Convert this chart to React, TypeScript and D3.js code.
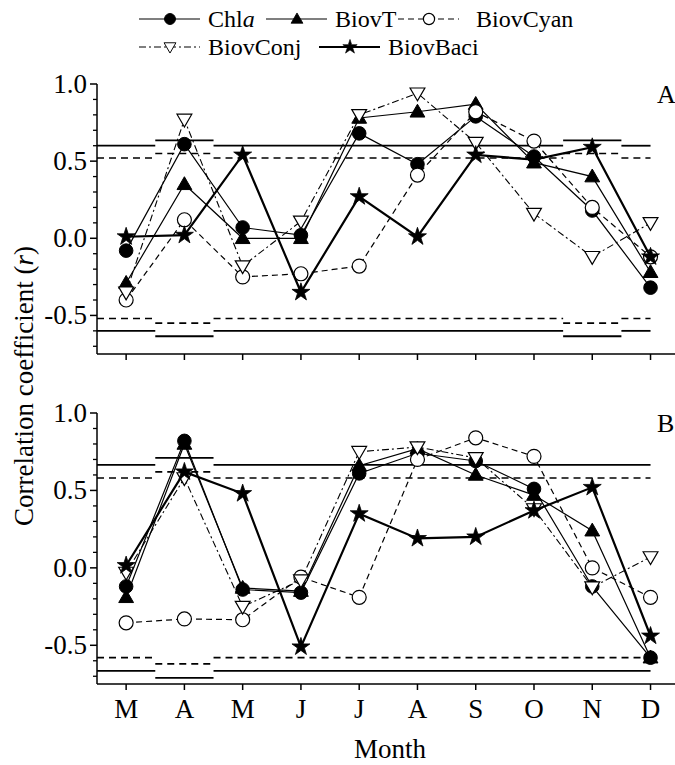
import React from 'react';
import * as d3 from 'd3';

const months = ['M', 'A', 'M', 'J', 'J', 'A', 'S', 'O', 'N', 'D'];
const yTickValues = [-0.5, 0, 0.5, 1.0];
const yTickLabels = ['-0.5', '0.0', '0.5', '1.0'];

// Panel A
const chlaA = [-0.08, 0.61, 0.07, 0.02, 0.68, 0.48, 0.79, 0.53, 0.18, -0.32];
const biovTA = [-0.29, 0.35, 0.0, 0.0, 0.78, 0.82, 0.87, 0.49, 0.4, -0.22];
const biovCyanA = [-0.4, 0.12, -0.25, -0.23, -0.18, 0.41, 0.82, 0.63, 0.2, -0.12];
const biovConjA = [-0.35, 0.77, -0.18, 0.11, 0.8, 0.94, 0.62, 0.16, -0.12, 0.1];
const biovBaciA = [0.01, 0.02, 0.54, -0.35, 0.27, 0.01, 0.54, 0.51, 0.59, -0.12];
const sig01A = [0.6, 0.635, 0.6, 0.6, 0.6, 0.6, 0.6, 0.6, 0.635, 0.6];
const sig05A = [0.52, 0.55, 0.52, 0.52, 0.52, 0.52, 0.52, 0.52, 0.55, 0.52];

// Panel B
const chlaB = [-0.12, 0.82, -0.14, -0.16, 0.61, 0.74, 0.69, 0.51, -0.12, -0.58];
const biovTB = [-0.19, 0.8, -0.13, -0.15, 0.66, 0.77, 0.6, 0.47, 0.24, -0.58];
const biovCyanB = [-0.355, -0.33, -0.335, -0.06, -0.19, 0.7, 0.84, 0.72, 0.0, -0.19];
const biovConjB = [-0.03, 0.58, -0.25, -0.08, 0.75, 0.78, 0.71, 0.38, -0.125, 0.07];
const biovBaciB = [0.015, 0.62, 0.48, -0.51, 0.35, 0.19, 0.2, 0.37, 0.52, -0.44];
const sig01B = [0.665, 0.71, 0.665, 0.665, 0.665, 0.665, 0.665, 0.665, 0.665, 0.665];
const sig05B = [0.58, 0.62, 0.58, 0.58, 0.58, 0.58, 0.58, 0.58, 0.58, 0.58];

const seriesNames = ['Chla', 'BiovT', 'BiovCyan', 'BiovConj', 'BiovBaci'];
const seriesStyle: Record<string, { dash: string | null; width: number; symbol: string }> = {
  Chla: { dash: null, width: 1.2, symbol: 'circleFilled' },
  BiovT: { dash: null, width: 1.2, symbol: 'triUp' },
  BiovCyan: { dash: '6,4', width: 1.2, symbol: 'circleOpen' },
  BiovConj: { dash: '7,3,2,3', width: 1.1, symbol: 'triDownOpen' },
  BiovBaci: { dash: null, width: 2.2, symbol: 'star' },
};

const FONT = 'Liberation Serif, Times New Roman, Times, DejaVu Serif, serif';
const W = 675;
const H = 765;

const x = d3.scaleLinear().domain([-0.5, 9.42]).range([97, 675]);

const triPath = d3.symbol(d3.symbolTriangle, 95)() as string;
const starPath = d3.symbol(d3.symbolStar, 100)() as string;

function Marker({ kind, cx, cy, s = 1 }: { kind: string; cx: number; cy: number; s?: number }) {
  const t = `translate(${cx},${cy}) scale(${s})`;
  if (kind === 'circleFilled') return <circle cx={cx} cy={cy} r={6.8 * s} fill="#000" stroke="#000" strokeWidth={1} />;
  if (kind === 'circleOpen') return <circle cx={cx} cy={cy} r={7 * s} fill="#fff" stroke="#000" strokeWidth={1.2} />;
  if (kind === 'triUp') return <path d={triPath} transform={t + ' translate(0,1)'} fill="#000" stroke="#000" strokeWidth={1} />;
  if (kind === 'triDownOpen') return <path d={triPath} transform={t + ' rotate(180) translate(0,1)'} fill="#fff" stroke="#000" strokeWidth={1.2} />;
  return <path d={starPath} transform={t} fill="#000" stroke="#000" strokeWidth={0.8} />;
}

function thresholdSegments(vals: number[]) {
  const segs: { x0: number; x1: number; v: number }[] = [];
  let start = 0;
  for (let i = 1; i <= vals.length; i++) {
    if (i === vals.length || vals[i] !== vals[start]) {
      const x0 = start - 0.5;
      const x1 = Math.min(i - 0.5, vals.length - 1);
      segs.push({ x0, x1, v: vals[start] });
      start = i;
    }
  }
  return segs;
}

function Panel({ top, bottom, data, sig01, sig05, label, showLabels }: any) {
  const y = d3.scaleLinear().domain([-0.75, 1.0]).range([bottom, top]);
  const line = d3.line<number>().x((_, i) => x(i)).y((d) => y(d));
  const minor = d3.range(-7, 10).map((k) => k / 10).filter((v) => ![-0.5, 0, 0.5].includes(Math.round(v * 10) / 10));
  const seg01 = thresholdSegments(sig01);
  const seg05 = thresholdSegments(sig05);
  return (
    <g>
      {seg01.map((s, i) => (
        <g key={'s01' + i}>
          <line x1={x(s.x0)} x2={x(s.x1)} y1={y(s.v)} y2={y(s.v)} stroke="#000" strokeWidth={1.8} />
          <line x1={x(s.x0)} x2={x(s.x1)} y1={y(-s.v)} y2={y(-s.v)} stroke="#000" strokeWidth={1.8} />
        </g>
      ))}
      {seg05.map((s, i) => (
        <g key={'s05' + i}>
          <line x1={x(s.x0)} x2={x(s.x1)} y1={y(s.v)} y2={y(s.v)} stroke="#000" strokeWidth={1.6} strokeDasharray="7,5" />
          <line x1={x(s.x0)} x2={x(s.x1)} y1={y(-s.v)} y2={y(-s.v)} stroke="#000" strokeWidth={1.6} strokeDasharray="7,5" />
        </g>
      ))}
      <line x1={97} x2={97} y1={y(1.0)} y2={bottom} stroke="#000" strokeWidth={1.5} />
      <line x1={97} x2={675} y1={bottom} y2={bottom} stroke="#000" strokeWidth={1.5} />
      {yTickValues.map((v, i) => (
        <g key={'yt' + i}>
          <line x1={90} x2={97} y1={y(v)} y2={y(v)} stroke="#000" strokeWidth={1.5} />
          <text x={87} y={y(v) + 9} textAnchor="end" style={{ fontFamily: FONT }} fontSize={27}>{yTickLabels[i]}</text>
        </g>
      ))}
      {minor.map((v, i) => (
        <line key={'ym' + i} x1={93} x2={97} y1={y(v)} y2={y(v)} stroke="#000" strokeWidth={1.3} />
      ))}
      {months.map((m, i) => (
        <g key={'xt' + i}>
          <line x1={x(i)} x2={x(i)} y1={bottom} y2={bottom + 6} stroke="#000" strokeWidth={1.5} />
          {showLabels && (
            <text x={x(i)} y={bottom + 34} textAnchor="middle" style={{ fontFamily: FONT }} fontSize={27}>{m}</text>
          )}
        </g>
      ))}
      {seriesNames.map((name, si) => {
        const st = seriesStyle[name];
        const vals: number[] = data[si];
        return (
          <g key={name}>
            <path d={line(vals) as string} fill="none" stroke="#000" strokeWidth={st.width} strokeDasharray={st.dash ?? undefined} />
            {vals.map((v, i) => (
              <Marker key={i} kind={st.symbol} cx={x(i)} cy={y(v)} />
            ))}
          </g>
        );
      })}
      <text x={657} y={top + 19} style={{ fontFamily: FONT }} fontSize={26}>{label}</text>
    </g>
  );
}

function LegendItem({ name, x0, yy, tx = 69 }: { name: string; x0: number; yy: number; tx?: number }) {
  const st = seriesStyle[name];
  const text = name === 'Chla' ? (
    <>Chl<tspan fontStyle="italic">a</tspan></>
  ) : name;
  return (
    <g>
      <line x1={x0} x2={x0 + 61} y1={yy} y2={yy} stroke="#000" strokeWidth={st.width} strokeDasharray={st.dash ?? undefined} />
      <Marker kind={st.symbol} cx={x0 + 31} cy={yy} s={0.8} />
      <text x={x0 + tx} y={yy + 8} style={{ fontFamily: FONT }} fontSize={24}>{text}</text>
    </g>
  );
}

export default function App() {
  return (
    <svg width={W} height={H} style={{ position: 'absolute', left: 0, top: 0, background: '#fff' }}>
      <rect width={W} height={H} fill="#fff" />
      <LegendItem name="Chla" x0={139} yy={19} />
      <LegendItem name="BiovT" x0={266} yy={19} />
      <LegendItem name="BiovCyan" x0={398} yy={19} tx={78} />
      <LegendItem name="BiovConj" x0={139} yy={47} />
      <LegendItem name="BiovBaci" x0={319} yy={47} />
      <Panel top={84} bottom={354} data={[chlaA, biovTA, biovCyanA, biovConjA, biovBaciA]} sig01={sig01A} sig05={sig05A} label="A" showLabels={false} />
      <Panel top={413} bottom={684} data={[chlaB, biovTB, biovCyanB, biovConjB, biovBaciB]} sig01={sig01B} sig05={sig05B} label="B" showLabels={true} />
      <text transform="translate(33,386) rotate(-90)" textAnchor="middle" style={{ fontFamily: FONT }} fontSize={27}>
        Correlation coefficient (<tspan fontStyle="italic">r</tspan>)
      </text>
      <text x={390} y={758} textAnchor="middle" style={{ fontFamily: FONT }} fontSize={27}>Month</text>
    </svg>
  );
}
